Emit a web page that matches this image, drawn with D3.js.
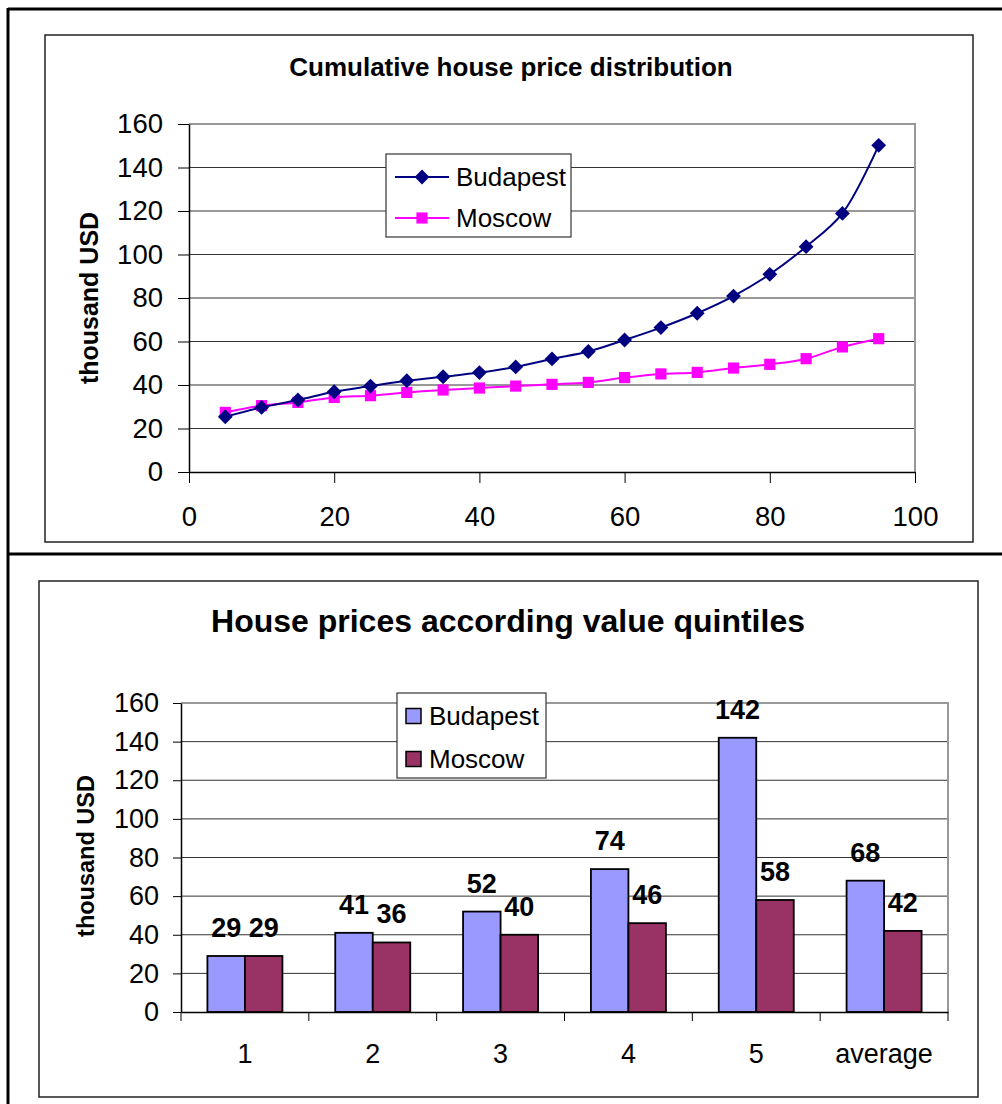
<!DOCTYPE html>
<html>
<head>
<meta charset="utf-8">
<script src="https://cdn.jsdelivr.net/npm/d3@7"></script>
<style>
  html, body { margin: 0; padding: 0; background: #fff; }
  svg { display: block; font-family: "Liberation Sans", Arial, sans-serif; }
</style>
</head>
<body>
<svg id="page" width="1002" height="1104"></svg>
<script>
// Cumulative distribution: percentile -> price (thousand USD)
const percentiles = [5, 10, 15, 20, 25, 30, 35, 40, 45, 50, 55, 60, 65, 70, 75, 80, 85, 90, 95];
const budapestCum = [25.4, 29.7, 33.1, 36.9, 39.5, 42.0, 43.8, 45.7, 48.3, 52.0, 55.4, 60.7, 66.4, 73.0, 80.9, 90.9, 103.6, 118.9, 150.2];
const moscowCum   = [27.4, 30.5, 32.0, 34.3, 35.1, 36.6, 37.7, 38.6, 39.5, 40.3, 41.2, 43.4, 45.1, 45.8, 47.8, 49.5, 52.1, 57.5, 61.3];

// Average price by value quintile (thousand USD)
const quintiles  = ["1", "2", "3", "4", "5", "average"];
const budapestQ  = [29, 41, 52, 74, 142, 68];
const moscowQ    = [29, 36, 40, 46, 58, 42];

const seriesNames = ["Budapest", "Moscow"];
const yTicks = [0, 20, 40, 60, 80, 100, 120, 140, 160];
const xTicks = [0, 20, 40, 60, 80, 100];

const svg = d3.select("#page");

// ---- page frame ----
const frame = svg.append("g").attr("stroke", "#000").attr("stroke-width", 3);
frame.append("line").attr("x1", 8).attr("x2", 1002).attr("y1", 9).attr("y2", 9);
frame.append("line").attr("x1", 8).attr("x2", 8).attr("y1", 8).attr("y2", 1104);
frame.append("line").attr("x1", 8).attr("x2", 1002).attr("y1", 554).attr("y2", 554);

// ===================== Line chart =====================
{
  const g = svg.append("g");
  g.append("rect").attr("x", 45).attr("y", 35).attr("width", 928).attr("height", 507)
    .attr("fill", "#fff").attr("stroke", "#222").attr("stroke-width", 1.5);

  const x = d3.scaleLinear().domain([0, 100]).range([189, 915]);
  const y = d3.scaleLinear().domain([0, 160]).range([472, 124]);

  // gridlines
  g.append("g").selectAll("line").data(yTicks.filter(v => v > 0 && v < 160)).join("line")
    .attr("x1", x(0)).attr("x2", x(100)).attr("y1", d => y(d)).attr("y2", d => y(d))
    .attr("stroke", "#333").attr("stroke-width", 1);
  // plot area border top/right
  g.append("path")
    .attr("d", `M${x(0)},${y(160)}H${x(100)}V${y(0)}`)
    .attr("fill", "none").attr("stroke", "#999").attr("stroke-width", 2);

  const yAxis = g.append("g").attr("transform", `translate(${x(0)},0)`)
    .call(d3.axisLeft(y).tickValues(yTicks).tickSize(11).tickSizeOuter(0).tickPadding(15));
  const xAxis = g.append("g").attr("transform", `translate(0,${y(0)})`)
    .call(d3.axisBottom(x).tickValues(xTicks).tickSize(11).tickSizeOuter(0).tickPadding(23));
  [yAxis, xAxis].forEach(a => {
    a.selectAll("path.domain").attr("stroke", "#000").attr("stroke-width", 1.5);
    a.selectAll(".tick line").attr("stroke", "#000").attr("stroke-width", 1);
    a.selectAll("text").attr("font-size", 27.5).attr("fill", "#000")
      .attr("font-family", "Liberation Sans, Arial, sans-serif");
  });

  g.append("text").attr("x", 511).attr("y", 76).attr("text-anchor", "middle")
    .attr("font-size", 26).attr("font-weight", "bold").text("Cumulative house price distribution");
  g.append("text").attr("transform", "translate(98,298) rotate(-90)").attr("text-anchor", "middle")
    .attr("font-size", 25).attr("font-weight", "bold").text("thousand USD");

  const line = d3.line().x(d => x(d[0])).y(d => y(d[1])).curve(d3.curveCatmullRom.alpha(0.5));
  const bud = percentiles.map((p, i) => [p, budapestCum[i]]);
  const mos = percentiles.map((p, i) => [p, moscowCum[i]]);

  g.append("path").datum(mos).attr("d", line).attr("fill", "none")
    .attr("stroke", "#FF00FF").attr("stroke-width", 2);
  g.append("path").datum(bud).attr("d", line).attr("fill", "none")
    .attr("stroke", "#000080").attr("stroke-width", 2);

  const diamond = d3.symbol().type(d3.symbolDiamond2).size(140);
  const square = d3.symbol().type(d3.symbolSquare).size(125);
  g.append("g").selectAll("path").data(mos).join("path")
    .attr("transform", d => `translate(${x(d[0])},${y(d[1])})`)
    .attr("d", square).attr("fill", "#FF00FF");
  g.append("g").selectAll("path").data(bud).join("path")
    .attr("transform", d => `translate(${x(d[0])},${y(d[1])})`)
    .attr("d", diamond).attr("fill", "#000080");

  // legend
  const lg = g.append("g");
  lg.append("rect").attr("x", 386).attr("y", 154).attr("width", 185).attr("height", 83)
    .attr("fill", "#fff").attr("stroke", "#333").attr("stroke-width", 1.2);
  const items = [
    { name: seriesNames[0], color: "#000080", sym: diamond, cy: 177 },
    { name: seriesNames[1], color: "#FF00FF", sym: square, cy: 218 }
  ];
  items.forEach(it => {
    lg.append("line").attr("x1", 395).attr("x2", 449).attr("y1", it.cy).attr("y2", it.cy)
      .attr("stroke", it.color).attr("stroke-width", 2);
    lg.append("path").attr("transform", `translate(422,${it.cy})`).attr("d", it.sym).attr("fill", it.color);
    lg.append("text").attr("x", 456).attr("y", it.cy).attr("dy", "0.35em")
      .attr("font-size", 26).text(it.name);
  });
}

// ===================== Bar chart =====================
{
  const g = svg.append("g");
  g.append("rect").attr("x", 39).attr("y", 581).attr("width", 939).attr("height", 516)
    .attr("fill", "#fff").attr("stroke", "#222").attr("stroke-width", 1.5);

  const x = d3.scaleBand().domain(quintiles).range([181, 948]);
  const xs = d3.scaleBand().domain(seriesNames).range([0, x.bandwidth()]).paddingOuter(0.704);
  const y = d3.scaleLinear().domain([0, 160]).range([1012, 703]);

  g.append("g").selectAll("line").data(yTicks.filter(v => v > 0 && v < 160)).join("line")
    .attr("x1", 181).attr("x2", 948).attr("y1", d => y(d)).attr("y2", d => y(d))
    .attr("stroke", "#333").attr("stroke-width", 1);
  g.append("path")
    .attr("d", `M181,${y(160)}H948V${y(0)}`)
    .attr("fill", "none").attr("stroke", "#999").attr("stroke-width", 2);

  const data = quintiles.map((q, i) => ({ q, vals: [budapestQ[i], moscowQ[i]] }));
  const colors = ["#9999FF", "#993366"];
  const groups = g.append("g").selectAll("g").data(data).join("g")
    .attr("transform", d => `translate(${x(d.q)},0)`);
  groups.selectAll("rect").data(d => d.vals.map((v, i) => ({ v, s: seriesNames[i], c: colors[i] }))).join("rect")
    .attr("x", d => xs(d.s)).attr("width", xs.bandwidth())
    .attr("y", d => y(d.v)).attr("height", d => y(0) - y(d.v))
    .attr("fill", d => d.c).attr("stroke", "#000").attr("stroke-width", 1.8);
  groups.selectAll("text").data(d => d.vals.map((v, i) => ({ v, s: seriesNames[i] }))).join("text")
    .attr("x", d => xs(d.s) + xs.bandwidth() / 2).attr("y", d => y(d.v) - 19)
    .attr("text-anchor", "middle").attr("font-size", 27).attr("font-weight", "bold")
    .text(d => d.v);

  const yAxis = g.append("g").attr("transform", "translate(181,0)")
    .call(d3.axisLeft(y).tickValues(yTicks).tickSize(8).tickSizeOuter(0).tickPadding(14));
  const xAxis = g.append("g").attr("transform", `translate(0,${y(0)})`)
    .call(d3.axisBottom(x).tickSize(0).tickPadding(32));
  // category boundary ticks
  const bounds = quintiles.map(q => x(q)).concat([x(quintiles[quintiles.length - 1]) + x.bandwidth()]);
  g.append("g").selectAll("line").data(bounds).join("line")
    .attr("x1", d => d).attr("x2", d => d).attr("y1", y(0)).attr("y2", y(0) + 9)
    .attr("stroke", "#000").attr("stroke-width", 1);
  [yAxis, xAxis].forEach(a => {
    a.selectAll("path.domain").attr("stroke", "#000").attr("stroke-width", 1.5);
    a.selectAll(".tick line").attr("stroke", "#000").attr("stroke-width", 1);
    a.selectAll("text").attr("font-size", 27).attr("fill", "#000")
      .attr("font-family", "Liberation Sans, Arial, sans-serif");
  });

  g.append("text").attr("x", 508).attr("y", 632).attr("text-anchor", "middle")
    .attr("font-size", 32).attr("font-weight", "bold").text("House prices according value quintiles");
  g.append("text").attr("transform", "translate(94,856) rotate(-90)").attr("text-anchor", "middle")
    .attr("font-size", 23.5).attr("font-weight", "bold").text("thousand USD");

  // legend
  const lg = g.append("g");
  lg.append("rect").attr("x", 397).attr("y", 693).attr("width", 149).attr("height", 85)
    .attr("fill", "#fff").attr("stroke", "#333").attr("stroke-width", 1.2);
  seriesNames.forEach((name, i) => {
    const cy = 716 + i * 43;
    lg.append("rect").attr("x", 406).attr("y", cy - 7.5).attr("width", 15).attr("height", 15)
      .attr("fill", colors[i]).attr("stroke", "#000").attr("stroke-width", 1.5);
    lg.append("text").attr("x", 429).attr("y", cy).attr("dy", "0.35em")
      .attr("font-size", 26).text(name);
  });
}
</script>
</body>
</html>
